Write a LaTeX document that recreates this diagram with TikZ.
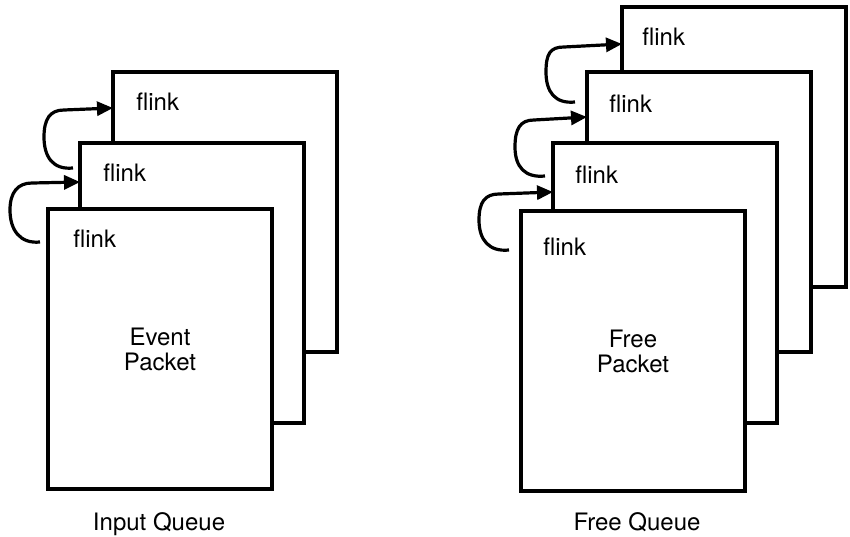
\documentclass[tikz,border=0pt]{standalone}
\usepackage{fontspec}
\setmainfont{TeX Gyre Heros}
\usetikzlibrary{arrows.meta}
\begin{document}
\begin{tikzpicture}[x=0.5pt,y=-0.5pt,
  pkt/.style={draw,line width=1.6pt,fill=white,minimum width=112pt,minimum height=140pt,inner sep=0pt,outer sep=0pt,anchor=north west},
  lbl/.style={font=\fontsize{12}{12.5}\selectfont,inner sep=0pt,anchor=base west},
  body/.style={font=\fontsize{12}{12.5}\selectfont,inner sep=0pt,align=center},
  link/.style={line width=1.6pt,-{Triangle[length=8pt,width=7pt]}},
  qcap/.style={font=\fontsize{12}{14}\selectfont,inner sep=0pt,anchor=base}]
\useasboundingbox (0,0) rectangle (850,536);
% ---- Input queue ----
\node[pkt] (L3) at (113,72) {};
\node[pkt] (L2) at (80,143) {};
\node[pkt] (L1) at (48,209) {};
\node[lbl] (fL3) at ([shift={(23,38)}]L3.north west) {flink};
\node[lbl] (fL2) at ([shift={(23,38)}]L2.north west) {flink};
\node[lbl] (fL1) at ([shift={(25,38)}]L1.north west) {flink};
\node[body] (eL) at (L1.center) {Event\\Packet};
\node[qcap] (qL) at (159,530) {Input Queue};
\coordinate (sL1) at (40,242);
\coordinate (sL2) at (73,168);
\draw[link] (sL1) .. controls +(-20,2) and +(0,20) .. (10,210)
  .. controls +(0,-18) and +(-14,0) .. (32,183) -- ([shift={(0,39)}]L2.north west);
\draw[link] (sL2) .. controls +(-20,2) and +(0,20) .. (44,137)
  .. controls +(0,-18) and +(-14,0) .. (64,110) -- ([shift={(0,36)}]L3.north west);
% ---- Free queue ----
\node[pkt] (R4) at (622,7) {};
\node[pkt] (R3) at (587,72) {};
\node[pkt] (R2) at (553,143) {};
\node[pkt] (R1) at (521,211) {};
\node[lbl] (fR4) at ([shift={(20,38)}]R4.north west) {flink};
\node[lbl] (fR3) at ([shift={(22,40)}]R3.north west) {flink};
\node[lbl] (fR2) at ([shift={(22,40)}]R2.north west) {flink};
\node[lbl] (fR1) at ([shift={(22,44)}]R1.north west) {flink};
\node[body] (eR) at (R1.center) {Free\\Packet};
\node[qcap] (qR) at (637,530) {Free Queue};
\coordinate (sR1) at (509,250);
\coordinate (sR2) at (545,176);
\coordinate (sR3) at (575,102);
\draw[link] (sR1) .. controls +(-20,2) and +(0,20) .. (479,220)
  .. controls +(0,-18) and +(-14,0) .. (499,194) -- ([shift={(0,49)}]R2.north west);
\draw[link] (sR2) .. controls +(-20,2) and +(0,20) .. (515,147)
  .. controls +(0,-18) and +(-14,0) .. (534,120) -- ([shift={(0,45)}]R3.north west);
\draw[link] (sR3) .. controls +(-20,2) and +(0,20) .. (546,72)
  .. controls +(0,-18) and +(-14,0) .. (564,47) -- ([shift={(0,37)}]R4.north west);
\end{tikzpicture}
\end{document}
